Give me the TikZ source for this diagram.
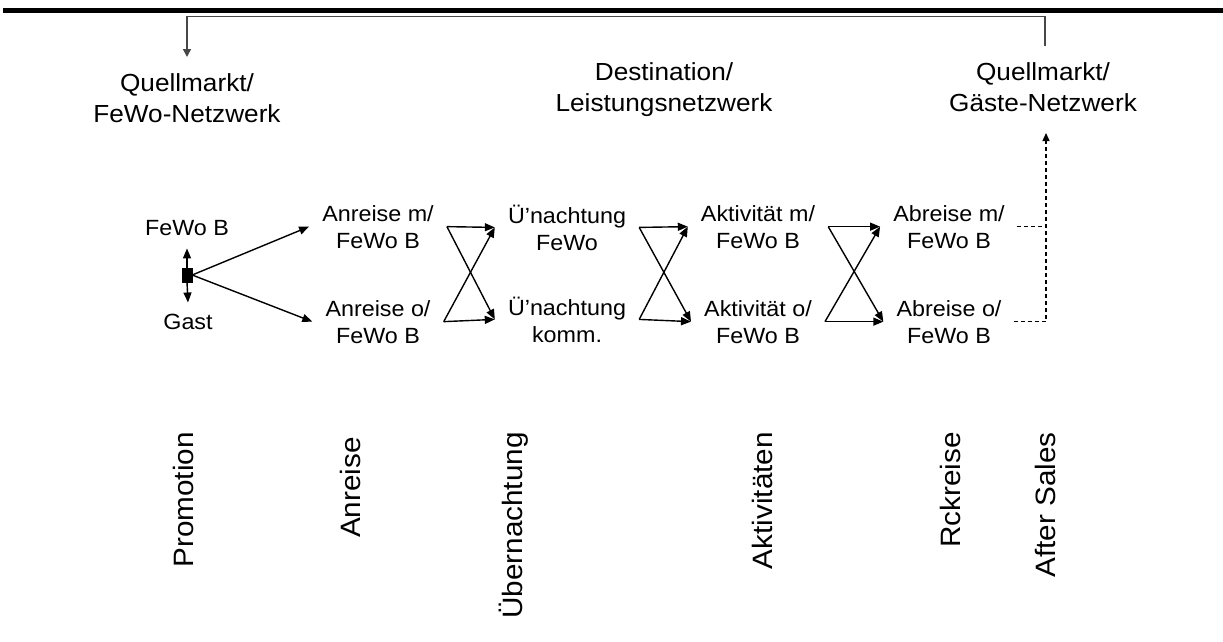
\documentclass[tikz,border=0pt]{standalone}
\usepackage{fontspec}
\setmainfont{Liberation Sans}[FakeStretch=1.06]
\usetikzlibrary{arrows.meta,calc}

\tikzset{
  hdr/.style={font=\fontsize{24.7}{31}\selectfont, align=center, inner sep=0pt, anchor=base},
  stage/.style={font=\fontsize{22}{27}\selectfont, align=center, inner sep=0pt, anchor=base},
  phase/.style={font=\fontsize{28}{34}\selectfont, rotate=90, anchor=base east, inner sep=0pt},
  flow/.style={line width=1.4pt, -{Triangle[length=10pt,width=8pt]}},
  ret/.style={line width=1.6pt, draw=black!72},
  feedback/.style={line width=1.3pt, dash pattern=on 4pt off 3pt, -{Triangle[length=8pt,width=7pt]}},
  marker/.style={draw, fill, minimum width=10pt, minimum height=14pt, inner sep=0pt},
}

\begin{document}
\begin{tikzpicture}[x=1pt,y=-1pt]
\useasboundingbox (0,0) rectangle (1223,641);

% heavy rule along the top edge
\fill (3,8) rectangle (1223,12.5);

% network headings (positioned by the baseline of their last line)
\node[hdr] (hL) at (187,122) {Quellmarkt/\\FeWo-Netzwerk};
\node[hdr] (hM) at (664,111) {Destination/\\Leistungsnetzwerk};
\node[hdr] (hR) at (1043,111) {Quellmarkt/\\Gäste-Netzwerk};

% return path from the guest network back to the holiday-flat network
\coordinate (retR) at (1045,46);
\coordinate (retL) at (187,57);
\draw[ret, -{Triangle[length=8pt,width=8pt]}] (retR) -- ++(0,-29.5) -| (retL);

% promotion: starting point with its two roles
\node[marker] (sq) at (187,275) {};
\node[stage] (pB) at (187,235) {FeWo B};
\node[stage] (pG) at (188,329) {Gast};
\draw[flow] (sq.north) -- ([yshift=-13pt]pB.south);
\draw[flow] (sq.south) -- ([yshift=11pt]pG.north);

% stage alternatives (positioned by the baseline of their last line)
\node[stage] (a1) at (378,248) {Anreise m/\\FeWo B};
\node[stage] (a2) at (378,343) {Anreise o/\\FeWo B};
\node[stage] (u1) at (567,250) {Ü’nachtung\\FeWo};
\node[stage] (u2) at (567,342) {Ü’nachtung\\komm.};
\node[stage] (k1) at (758,248) {Aktivität m/\\FeWo B};
\node[stage] (k2) at (758,343) {Aktivität o/\\FeWo B};
\node[stage] (b1) at (949,248) {Abreise m/\\FeWo B};
\node[stage] (b2) at (949,343) {Abreise o/\\FeWo B};

% promotion to arrival
\draw[flow] (sq.east) -- ([xshift=-13pt]a1.west);
\draw[flow] (sq.east) -- ([xshift=-13pt]a2.west);

% crossed transitions between consecutive stages
\foreach \p/\q in {a/u, u/k, k/b} {
  \draw[flow] ([xshift=13pt]\p1.east) -- ([xshift=-13pt]\q1.west);
  \draw[flow] ([xshift=13pt]\p1.east) -- ([xshift=-13pt]\q2.west);
  \draw[flow] ([xshift=13pt]\p2.east) -- ([xshift=-13pt]\q2.west);
  \draw[flow] ([xshift=13pt]\p2.east) -- ([xshift=-13pt]\q1.west);
}

% after-sales feedback to the guest network
\coordinate (fbTop) at (1046,133);
\draw[feedback, -] ([xshift=12pt]b1.east) -- (b1.east -| fbTop);
\draw[feedback] ([xshift=12pt]b2.east) -| (fbTop);

% phases
\node[phase] (ph1) at (193,432) {Promotion};
\node[phase] (ph2) at (360,437) {Anreise};
\node[phase] (ph3) at (522,432) {Übernachtung};
\node[phase] (ph4) at (772,432) {Aktivitäten};
\node[phase] (ph5) at (960,432) {Rckreise};
\node[phase] (ph6) at (1055,432) {After Sales};
\end{tikzpicture}
\end{document}
